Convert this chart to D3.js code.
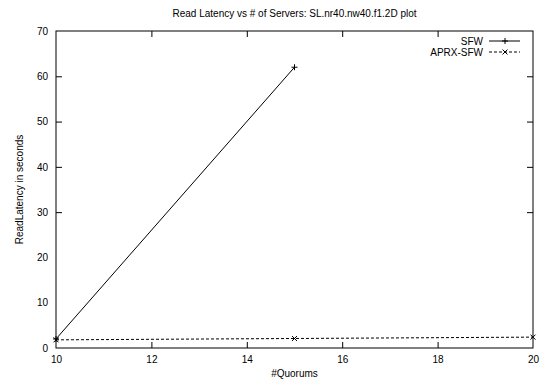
<!DOCTYPE html>
<html>
<head>
<meta charset="utf-8">
<script src="https://cdn.jsdelivr.net/npm/d3@7"></script>
<style>
body { margin: 0; background: #fff; }
text { font-family: "Liberation Sans", Arial, sans-serif; font-size: 10px; fill: #000; }
</style>
</head>
<body>
<svg id="chart" width="554" height="382"></svg>
<script>
// values
var quorums = [10, 15, 20]
var sfw = [2.0, 62.0]            // only first two quorum counts
var aprxSfw = [1.8, 2.1, 2.4]
var xTicks = [10, 12, 14, 16, 18, 20]
var yTicks = [0, 10, 20, 30, 40, 50, 60, 70]

var width = 554, height = 382
var margin = {top: 31, right: 21, bottom: 34, left: 56}

var svg = d3.select('#chart')

var x = d3.scaleLinear().domain([10, 20]).range([margin.left, width - margin.right])
var y = d3.scaleLinear().domain([0, 70]).range([height - margin.bottom, margin.top])

var tickLen = 6

// frame
svg.append('rect')
    .attr('x', x(10)).attr('y', y(70))
    .attr('width', x(20) - x(10)).attr('height', y(0) - y(70))
    .attr('fill', 'none').attr('stroke', '#000').attr('stroke-width', 1)

// ticks on all four sides, pointing inward
var xAxisB = d3.axisBottom(x).tickValues(xTicks).tickSizeInner(-tickLen).tickSizeOuter(0).tickPadding(8)
var xAxisT = d3.axisTop(x).tickValues(xTicks).tickSizeInner(-tickLen).tickSizeOuter(0).tickFormat('')
var yAxisL = d3.axisLeft(y).tickValues(yTicks).tickSizeInner(-tickLen).tickSizeOuter(0).tickPadding(8)
var yAxisR = d3.axisRight(y).tickValues(yTicks).tickSizeInner(-tickLen).tickSizeOuter(0).tickFormat('')

function styleAxis(g) {
    g.select('.domain').remove()
    g.selectAll('.tick line').attr('stroke', '#000')
}

svg.append('g').attr('transform', 'translate(0,' + y(0) + ')').call(xAxisB).call(styleAxis)
svg.append('g').attr('transform', 'translate(0,' + y(70) + ')').call(xAxisT).call(styleAxis)
svg.append('g').attr('transform', 'translate(' + x(10) + ',0)').call(yAxisL).call(styleAxis)
svg.append('g').attr('transform', 'translate(' + x(20) + ',0)').call(yAxisR).call(styleAxis)
svg.selectAll('g').attr('font-family', null).attr('font-size', null)

// the edge ticks at 0/70 and 10/20 overlap the frame, hide them
svg.selectAll('.tick line').filter(function(d) { return d == 0 || d == 70 || d == 10 || d == 20 }).remove()

// lines
var line = d3.line().x(function(d) { return x(d[0]) }).y(function(d) { return y(d[1]) })

var sfwPts = sfw.map(function(v, i) { return [quorums[i], v] })
var aprxPts = aprxSfw.map(function(v, i) { return [quorums[i], v] })

svg.append('path').datum(sfwPts).attr('d', line)
    .attr('fill', 'none').attr('stroke', '#000').attr('stroke-width', 1)
svg.append('path').datum(aprxPts).attr('d', line)
    .attr('fill', 'none').attr('stroke', '#000').attr('stroke-width', 1).attr('stroke-dasharray', '3,2')

function plus(g, cx, cy) {
    g.append('path').attr('d', 'M' + (cx - 3) + ',' + cy + 'H' + (cx + 3) + 'M' + cx + ',' + (cy - 3) + 'V' + (cy + 3))
        .attr('stroke', '#000').attr('stroke-width', 1).attr('fill', 'none')
}
function cross(g, cx, cy) {
    g.append('path').attr('d', 'M' + (cx - 2.5) + ',' + (cy - 2.5) + 'L' + (cx + 2.5) + ',' + (cy + 2.5) +
        'M' + (cx - 2.5) + ',' + (cy + 2.5) + 'L' + (cx + 2.5) + ',' + (cy - 2.5))
        .attr('stroke', '#000').attr('stroke-width', 1).attr('fill', 'none')
}

var marks = svg.append('g')
sfwPts.forEach(function(p) { plus(marks, x(p[0]), y(p[1])) })
aprxPts.forEach(function(p) { cross(marks, x(p[0]), y(p[1])) })

// legend
var legend = svg.append('g')
var legX = 483, legY = 41, legStep = 11
legend.append('text').attr('x', legX).attr('y', legY + 3.5).attr('text-anchor', 'end').text('SFW')
legend.append('line').attr('x1', legX + 6).attr('x2', legX + 37).attr('y1', legY).attr('y2', legY)
    .attr('stroke', '#000')
plus(legend, legX + 22, legY)
legend.append('text').attr('x', legX).attr('y', legY + legStep + 3.5).attr('text-anchor', 'end').text('APRX-SFW')
legend.append('line').attr('x1', legX + 6).attr('x2', legX + 37).attr('y1', legY + legStep).attr('y2', legY + legStep)
    .attr('stroke', '#000').attr('stroke-dasharray', '3,2')
cross(legend, legX + 22, legY + legStep)

// titles
svg.append('text').attr('x', (x(10) + x(20)) / 2).attr('y', 17).attr('text-anchor', 'middle')
    .text('Read Latency vs # of Servers: SL.nr40.nw40.f1.2D plot')
svg.append('text').attr('x', (x(10) + x(20)) / 2).attr('y', 377).attr('text-anchor', 'middle')
    .text('#Quorums')
svg.append('text').attr('transform', 'translate(23,' + (y(0) + y(70)) / 2 + ') rotate(-90)')
    .attr('text-anchor', 'middle').text('ReadLatency in seconds')
</script>
</body>
</html>
